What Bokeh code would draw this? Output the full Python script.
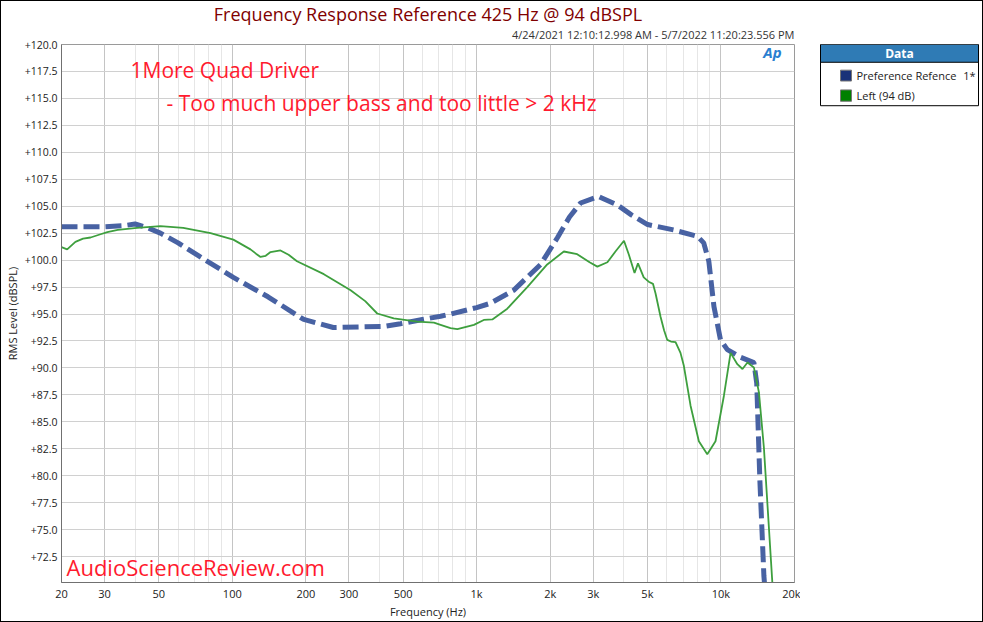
from bokeh.plotting import figure
from bokeh.layouts import row
from bokeh.models import Range1d, FixedTicker, CustomJSTickFormatter, Label, Title
from bokeh.core.properties import value
from bokeh.embed import file_html
from bokeh.resources import INLINE

# ---------------- data ----------------
ref_freq = [20, 30, 36, 40, 45, 50.8, 60, 74, 101, 140, 196, 259, 330, 416, 488, 600, 712, 782,
            1000, 1140, 1417, 1828, 2144, 2400, 2663, 3156, 3775, 4300, 5010, 6400, 8020, 8500,
            8920, 9360, 9960, 10620, 12000, 13640, 14010, 14430, 14990, 15200]
ref_db = [103.1, 103.1, 103.2, 103.35, 103.0, 102.5, 101.6, 100.3, 98.4, 96.6, 94.5, 93.75, 93.8,
          93.85, 94.1, 94.5, 94.8, 95.0, 95.6, 96.0, 97.2, 99.6, 102.1, 104.0, 105.3, 105.9, 105.1,
          104.2, 103.3, 102.8, 102.2, 101.6, 99.9, 95.7, 92.6, 91.7, 91.0, 90.5, 88.6, 79.6, 70.7, 69.0]

left_freq = [20, 21.1, 22.8, 24.5, 26.3, 28.9, 30.8, 34, 40.8, 50.8, 63, 81.5, 101, 118.7, 125,
             130.5, 137, 143.4, 157.5, 170, 184, 237, 305, 350, 392, 458, 571, 669, 712, 782, 834,
             975, 1070, 1160, 1335, 1612, 1945, 2275, 2580, 2900, 3120, 3430, 3700, 4010, 4200,
             4430, 4575, 4830, 5060, 5270, 5400, 5660, 5850, 6030, 6240, 6520, 6830, 7050, 7510,
             8120, 8790, 9500, 10280, 10950, 11670, 12250, 12840, 13640, 14300, 14990, 16240, 16500]
left_db = [101.2, 101.0, 101.7, 102.0, 102.1, 102.4, 102.6, 102.8, 103.0, 103.15, 103.0, 102.5,
           101.9, 101.0, 100.6, 100.3, 100.4, 100.75, 100.9, 100.5, 99.9, 98.7, 97.2, 96.2, 95.05,
           94.6, 94.3, 94.2, 94.0, 93.7, 93.6, 94.0, 94.45, 94.5, 95.5, 97.5, 99.6, 100.8, 100.55,
           99.8, 99.4, 99.8, 100.8, 101.8, 100.5, 98.8, 99.7, 98.4, 98.0, 97.8, 96.9, 94.75, 93.5,
           92.6, 92.45, 92.4, 91.4, 90.2, 86.5, 83.2, 82.0, 83.2, 87.4, 91.4, 90.35, 89.9, 90.5,
           90.05, 87.75, 82.6, 70.0, 69.0]

x_major_ticks = [20, 30, 50, 100, 200, 300, 500, 1000, 2000, 3000, 5000, 10000, 20000]
x_minor_ticks = [40, 60, 70, 80, 90, 400, 600, 700, 800, 900, 4000, 6000, 7000, 8000, 9000]
y_ticks = [72.5, 75.0, 77.5, 80.0, 82.5, 85.0, 87.5, 90.0, 92.5, 95.0, 97.5, 100.0, 102.5,
           105.0, 107.5, 110.0, 112.5, 115.0, 117.5, 120.0]

series_names = ["Preference Refence", "Left (94 dB)"]
series_legend_colors = ["#1a3278", "#008000"]
title_text = "Frequency Response Reference 425 Hz @ 94 dBSPL"
subtitle_text = "4/24/2021 12:10:12.998 AM - 5/7/2022 11:20:23.556 PM"

FONT = "Open Sans"
H = 620
TOP, BOTTOM = 43, 32

# ---------------- main chart ----------------
p = figure(width=799, height=H, x_axis_type="log",
           x_range=Range1d(20, 20000), y_range=Range1d(70.1, 120),
           output_backend="svg", toolbar_location=None, title=None,
           min_border_left=60, min_border_right=6, min_border_top=TOP, min_border_bottom=BOTTOM)

p.background_fill_color = "white"
p.border_fill_color = "white"
p.outline_line_color = "#9a9a9a"

p.add_layout(Title(text=subtitle_text, align="right", text_font=FONT, text_font_size="11px",
                   text_color="#333333", text_font_style="normal",
                   standoff=5, offset=0), "above")
p.add_layout(Title(text=title_text, align="center", text_font=FONT, text_font_size="18px",
                   text_color="#800000", text_font_style="normal",
                   standoff=-6, offset=0), "above")

p.xaxis.ticker = FixedTicker(ticks=x_major_ticks, minor_ticks=x_minor_ticks)
p.yaxis.ticker = FixedTicker(ticks=y_ticks)
p.xaxis.formatter = CustomJSTickFormatter(code="return tick >= 1000 ? (tick/1000) + 'k' : tick.toString();")
p.yaxis.formatter = CustomJSTickFormatter(code="return '+' + tick.toFixed(1);")
for ax in (p.xaxis, p.yaxis):
    ax.major_tick_line_color = None
    ax.minor_tick_line_color = None
    ax.major_tick_out = 0
    ax.major_tick_in = 0
    ax.minor_tick_out = 0
    ax.minor_tick_in = 0
    ax.axis_line_color = "#707070"
    ax.major_label_text_font = FONT
    ax.major_label_text_font_size = "11px"
    ax.major_label_text_color = "#222222"
    ax.axis_label_text_font = FONT
    ax.axis_label_text_font_size = "11px"
    ax.axis_label_text_font_style = "normal"
    ax.axis_label_text_color = "#222222"
p.yaxis.major_label_text_font_size = "10.5px"
p.xaxis.axis_label = "Frequency (Hz)"
p.yaxis.axis_label = "RMS Level (dBSPL)"
p.xaxis.major_label_standoff = 3
p.xaxis.axis_label_standoff = 0
p.yaxis.major_label_standoff = 4
p.yaxis.axis_label_standoff = 2

p.xgrid.grid_line_color = "#c4c4c4"
p.xgrid.minor_grid_line_color = "#e6e6e6"
p.ygrid.grid_line_color = "#d0d0d0"

p.line(ref_freq, ref_db, line_color="#4862a3", line_width=5, line_dash="16 6")
p.line(left_freq, left_db, line_color="#3e9f3e", line_width=1.8)

def lab(x, y, text, size, color, align="left", baseline="middle", style="normal"):
    p.add_layout(Label(x=x, y=y, x_units="screen", y_units="screen", text=text,
                       text_font=FONT, text_font_size=size, text_color=color,
                       text_align=align, text_baseline=baseline, text_font_style=style))

lab(69, 513, "1More Quad Driver", "21px", "#ff1a2e", baseline="alphabetic")
lab(105, 480, "- Too much upper bass and too little > 2 kHz", "21px", "#ff1a2e", baseline="alphabetic")
lab(5, 16, "AudioScienceReview.com", "22px", "#ff1a2e", baseline="alphabetic")
lab(711, 531, "Ap", "15px", "#2a7fd0", align="center", style="bold italic")

# ---------------- legend panel (frame aligned with main frame) ----------------
FRAME_H = H - TOP - BOTTOM
lg = figure(width=182, height=H, x_range=Range1d(0, 182), y_range=Range1d(FRAME_H, 0),
            output_backend="svg", toolbar_location=None, title=None,
            x_axis_location=None, y_axis_location=None,
            min_border_left=0, min_border_right=0, min_border_top=TOP, min_border_bottom=BOTTOM)
lg.grid.visible = False
lg.outline_line_color = None
lg.background_fill_color = "white"
lg.border_fill_color = "white"

lg.quad(left=[20], right=[178], top=[0], bottom=[62], fill_color="white", line_color="black", line_width=1)
lg.quad(left=[20], right=[178], top=[0], bottom=[18], fill_color="#2f7bb5", line_color="black", line_width=1)
lg.text(x=[99], y=[9], text=["Data"], text_font=value(FONT), text_font_size="12px",
        text_font_style="bold", text_color="white", text_align="center", text_baseline="middle")
lg.quad(left=[40, 40], right=[51, 51], top=[26, 46], bottom=[37, 57.5],
        fill_color=series_legend_colors, line_color="#777777", line_width=1)
lg.text(x=[56, 56], y=[31.5, 52], text=series_names, text_font=value(FONT), text_font_size="11px",
        text_color="#222222", text_align="left", text_baseline="middle")
lg.text(x=[175], y=[31.5], text=["1*"], text_font=value(FONT), text_font_size="11px",
        text_color="#222222", text_align="right", text_baseline="middle")

layout = row(p, lg, spacing=0, styles={"border": "1px solid black"})
open("out.html", "w").write(file_html(layout, INLINE))
